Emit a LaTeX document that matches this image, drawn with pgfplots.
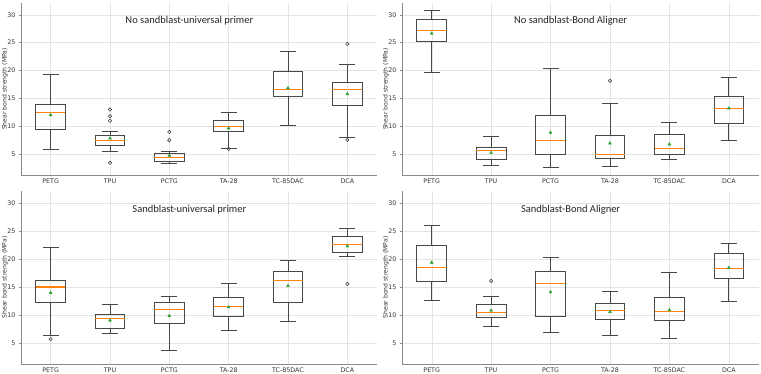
\documentclass[border=0pt]{standalone}
\usepackage{fontspec}
\setmainfont{DejaVu Sans}
\newfontfamily\titlefont{Carlito}
\usepackage{pgfplots}
\pgfplotsset{compat=1.18}
\usepgfplotslibrary{statistics}
\definecolor{boxc}{HTML}{474747}
\definecolor{medc}{HTML}{FF850F}
\definecolor{meanc}{HTML}{2CA02C}
\definecolor{spine}{HTML}{8A8A8A}
\definecolor{gridc}{HTML}{E4E4E4}
\definecolor{labc}{HTML}{333333}
\tikzset{ttl/.style={font=\titlefont\fontsize{10.5}{12}\selectfont, text=black!85}}
\newcommand{\bp}[7]{%
  \addplot[boxplot prepared={draw direction=y, draw position=#1, lower whisker=#2, lower quartile=#3, median=#4, upper quartile=#5, upper whisker=#6, box extend=0.5, whisker extend=0.27},
    draw=boxc, solid, line width=0.8pt, mark=o, mark size=1.7pt, mark options={draw=boxc, line width=0.6pt, fill=none}] table[row sep=\\, y index=0] {#7};}
\pgfplotsset{
  panel/.style={
    scale only axis, anchor=south west,
    xmin=0.5, xmax=6.5, ymin=1.27, ymax=32.12,
    xtick={1,2,3,4,5,6}, xticklabels={PETG,TPU,PCTG,TA-28,TC-85DAC,DCA},
    ytick={5,10,15,20,25,30},
    axis x line*=bottom, axis y line*=left,
    axis line style={draw=spine, line width=0.8pt},
    grid=major, major grid style={draw=gridc, line width=0.4pt},
    tick align=outside, major tick length=2pt,
    tick style={draw=spine, line width=0.6pt},
    xtick style={draw=none},
    tick label style={font=\fontsize{6.3}{7.5}\selectfont, text=labc},
    xticklabel style={inner sep=1pt, yshift=-0.5pt},
    ylabel={Shear bond strength (MPa)},
    ylabel style={font=\fontsize{6.1}{7}\selectfont, text=labc},
    every axis y label/.append style={at={(axis description cs:-0.045,0.5)}, anchor=center},
    /pgf/number format/assume math mode=true,
    boxplot/every median/.style={draw=medc, line width=1.3pt},
  },
}
\newcommand{\means}[6]{\addplot[only marks, mark=triangle*, mark size=1.7pt, color=meanc] coordinates {(1,#1) (2,#2) (3,#3) (4,#4) (5,#5) (6,#6)};}
\begin{document}
\begin{tikzpicture}
\useasboundingbox (0,0) rectangle (761pt,373pt);
% top-left
\begin{axis}[panel, at={(21pt,198pt)}, width=356pt, height=172pt]
\bp{1}{5.9}{9.48}{12.52}{13.95}{19.38}{data\\}
\bp{2}{5.48}{6.6}{7.45}{8.34}{9.12}{data\\ 13.0\\ 11.8\\ 11.0\\ 3.45\\}
\bp{3}{3.33}{3.75}{4.46}{5.1}{5.48}{data\\ 9.0\\ 7.5\\}
\bp{4}{6.07}{9.06}{9.95}{11.15}{12.52}{data\\ 5.95\\}
\bp{5}{10.25}{15.38}{16.64}{19.8}{23.5}{data\\}
\bp{6}{8.1}{13.83}{16.64}{17.83}{21.1}{data\\ 24.8\\ 7.57\\}
\means{12.04}{7.86}{4.76}{9.65}{16.87}{15.8}
\node[ttl] at (rel axis cs:0.473,0.897) {No sandblast-universal primer};
\end{axis}
% top-right
\begin{axis}[panel, at={(402pt,198pt)}, width=356.5pt, height=172pt]
\bp{1}{19.62}{25.17}{27.14}{29.17}{30.72}{data\\}
\bp{2}{2.97}{3.99}{5.66}{6.25}{8.16}{data\\}
\bp{3}{2.67}{4.94}{7.5}{11.92}{20.34}{data\\}
\bp{4}{2.85}{4.28}{5.0}{8.34}{14.19}{data\\ 18.19\\}
\bp{5}{4.05}{5.0}{6.07}{8.52}{10.67}{data\\}
\bp{6}{7.39}{10.55}{13.17}{15.32}{18.72}{data\\}
\means{26.66}{5.24}{8.88}{6.97}{6.79}{13.23}
\node[ttl] at (rel axis cs:0.473,0.897) {No sandblast-Bond Aligner};
\end{axis}
% bottom-left
\begin{axis}[panel, at={(21pt,9pt)}, width=356pt, height=173pt]
\bp{1}{6.31}{12.19}{14.98}{16.22}{21.98}{data\\ 5.71\\}
\bp{2}{6.66}{7.55}{9.33}{10.17}{11.95}{data\\}
\bp{3}{3.69}{8.44}{10.94}{12.3}{13.37}{data\\}
\bp{4}{7.32}{9.69}{11.53}{13.08}{15.57}{data\\}
\bp{5}{8.92}{12.3}{16.1}{17.77}{19.67}{data\\}
\bp{6}{20.5}{21.09}{22.52}{23.94}{25.37}{data\\ 15.57\\}
\means{13.97}{9.04}{9.87}{11.41}{15.21}{22.28}
\node[ttl] at (rel axis cs:0.473,0.89) {Sandblast-universal primer};
\end{axis}
% bottom-right
\begin{axis}[panel, at={(402pt,9pt)}, width=356.5pt, height=173pt]
\bp{1}{12.6}{15.99}{18.54}{22.46}{25.96}{data\\}
\bp{2}{8.03}{9.57}{10.46}{11.89}{13.31}{data\\ 16.1\\}
\bp{3}{6.96}{9.75}{15.57}{17.71}{20.26}{data\\}
\bp{4}{6.31}{9.22}{10.76}{12.13}{14.26}{data\\}
\bp{5}{5.89}{9.04}{10.58}{13.19}{17.53}{data\\}
\bp{6}{12.36}{16.46}{18.3}{20.91}{22.7}{data\\}
\means{19.37}{10.82}{14.09}{10.58}{10.88}{18.42}
\node[ttl] at (rel axis cs:0.473,0.89) {Sandblast-Bond Aligner};
\end{axis}
\end{tikzpicture}
\end{document}
